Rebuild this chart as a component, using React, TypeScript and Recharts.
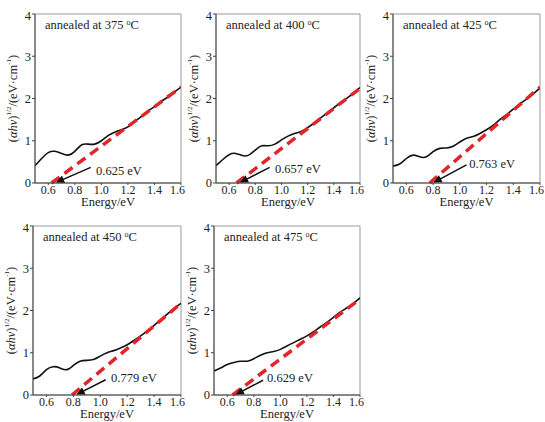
import React from 'react';
import { ComposedChart, Line, XAxis, YAxis, ReferenceArea, ReferenceLine, ReferenceDot, Label, Customized } from 'recharts';

const energy = [0.5, 0.55, 0.6, 0.65, 0.7, 0.75, 0.8, 0.85, 0.9, 0.95, 1.0, 1.05, 1.1, 1.15, 1.2, 1.25, 1.3, 1.35, 1.4, 1.45, 1.5, 1.55, 1.6];

const curve375 = [0.41, 0.58, 0.72, 0.75, 0.70, 0.66, 0.75, 0.90, 0.92, 0.92, 1.00, 1.12, 1.20, 1.26, 1.33, 1.45, 1.57, 1.70, 1.81, 1.93, 2.03, 2.15, 2.27];
const curve400 = [0.41, 0.55, 0.67, 0.70, 0.65, 0.66, 0.78, 0.88, 0.88, 0.92, 1.02, 1.11, 1.17, 1.22, 1.31, 1.42, 1.54, 1.66, 1.78, 1.90, 2.01, 2.13, 2.26];
const curve425 = [0.40, 0.45, 0.58, 0.66, 0.62, 0.62, 0.74, 0.82, 0.83, 0.87, 0.97, 1.06, 1.10, 1.17, 1.26, 1.37, 1.50, 1.62, 1.75, 1.87, 1.99, 2.11, 2.25];
const curve450 = [0.38, 0.45, 0.60, 0.67, 0.64, 0.60, 0.70, 0.80, 0.82, 0.84, 0.92, 1.00, 1.05, 1.11, 1.19, 1.29, 1.40, 1.52, 1.65, 1.78, 1.92, 2.05, 2.17];
const curve475 = [0.57, 0.64, 0.72, 0.77, 0.80, 0.80, 0.86, 0.94, 1.00, 1.03, 1.08, 1.16, 1.24, 1.32, 1.40, 1.50, 1.61, 1.72, 1.84, 1.96, 2.06, 2.17, 2.30];

// fitted straight line: [x0, y0, x1, y1]
const fit375 = [0.625, 0, 1.6, 2.27];
const fit400 = [0.657, 0, 1.6, 2.24];
const fit425 = [0.775, 0, 1.6, 2.27];
const fit450 = [0.79, 0, 1.6, 2.17];
const fit475 = [0.64, 0, 1.57, 2.2];

// arrow: [tailX, tailY, headX, headY]
const arrow375 = [0.92, 0.37, 0.665, 0.02];
const arrow400 = [0.91, 0.37, 0.69, 0.02];
const arrow425 = [1.05, 0.43, 0.81, 0.02];
const arrow450 = [1.04, 0.36, 0.83, 0.02];
const arrow475 = [0.87, 0.35, 0.67, 0.02];

const gapLabels = ['0.625 eV', '0.657 eV', '0.763 eV', '0.779 eV', '0.629 eV'];
const labelPos = [[0.96, 0.3], [0.95, 0.35], [1.07, 0.45], [1.08, 0.42], [0.9, 0.42]];
const temps = ['375', '400', '425', '450', '475'];

const xTicks = [0.6, 0.8, 1.0, 1.2, 1.4, 1.6];
const yTicks = [0, 1, 2, 3, 4];

const FONT = '"Liberation Serif", "DejaVu Serif", serif';
const TXT = '#222';

const YLabel = (props: any) => {
    const vb = props.viewBox || {};
    const cx = vb.x + 14;
    const cy = vb.y + vb.height / 2;
    return (
        <text x={cx} y={cy} transform={`rotate(-90 ${cx} ${cy})`} textAnchor="middle" dominantBaseline="middle" fontFamily={FONT} fontSize={12.5} fill={TXT}>
            (<tspan fontStyle="italic">αhν</tspan>)<tspan fontSize={7} dy={-5}>1/2</tspan><tspan dy={5}>/(eV·cm</tspan><tspan fontSize={7} dy={-5}>-1</tspan><tspan dy={5}>)</tspan>
        </text>
    );
};

const XLabel = (props: any) => {
    const vb = props.viewBox || {};
    return (
        <text x={vb.x + vb.width / 2} y={vb.y + 20.5} textAnchor="middle" dominantBaseline="middle" fontFamily={FONT} fontSize={12.5} fill={TXT}>
            Energy/eV
        </text>
    );
};

interface PanelProps {
    px: number;
    py: number;
    pw: number;
    ph: number;
    curve: number[];
    fit: number[];
    arrow: number[];
    idx: number;
}

const YW = 35;
const MT = 6;
const MR = 4;
const XH = 30;

function Panel({ px, py, pw, ph, curve, fit, arrow, idx }: PanelProps) {
    const data = energy.map((e, i) => ({ e, v: curve[i] }));
    const fitData = [{ e: fit[0], f: fit[1] }, { e: fit[2], f: fit[3] }];
    return (
        <div style={{ position: 'absolute', left: px - YW, top: py - MT }}>
            <ComposedChart width={pw + YW + MR} height={ph + MT + XH} margin={{ top: MT, right: MR, left: 0, bottom: 0 }}>
                <XAxis
                    dataKey="e"
                    type="number"
                    domain={[0.5, 1.6]}
                    ticks={xTicks}
                    allowDataOverflow
                    tickFormatter={(v: number) => v.toFixed(1)}
                    height={XH}
                    tickSize={2}
                    tickMargin={0}
                    stroke="#444"
                    tick={{ fontSize: 12, fontFamily: FONT, fill: TXT }}
                >
                    <Label content={XLabel} />
                </XAxis>
                <YAxis
                    type="number"
                    domain={[0, 4]}
                    ticks={yTicks}
                    width={YW}
                    tickSize={3}
                    tickMargin={1}
                    stroke="#444"
                    tick={{ fontSize: 12.5, fontFamily: FONT, fill: TXT }}
                >
                    <Label content={YLabel} />
                </YAxis>
                <ReferenceArea x1={0.5} x2={1.6} y1={0} y2={4} fill="none" stroke="#999" strokeWidth={1} />
                <Line data={data} dataKey="v" type="natural" stroke="#111" strokeWidth={1.6} dot={false} isAnimationActive={false} />
                <Line data={fitData} dataKey="f" type="linear" stroke="#e0262b" strokeWidth={3.5} strokeDasharray="10 6" dot={false} isAnimationActive={false} />
                <ReferenceLine
                    segment={[{ x: arrow[0], y: arrow[1] }, { x: arrow[2], y: arrow[3] }]}
                    stroke="#111"
                    strokeWidth={1.5}
                    markerEnd="url(#arrowHead)"
                    ifOverflow="visible"
                />
                <ReferenceDot x={labelPos[idx][0]} y={labelPos[idx][1]} r={0} fill="none" stroke="none" ifOverflow="visible"
                    label={{ value: gapLabels[idx], position: 'right', offset: 0, style: { fontSize: 12.5, fontFamily: FONT, fill: TXT } }} />
                <Customized component={() => (
                    <text x={YW + 10} y={MT + 15} fontFamily={FONT} fontSize={12.5} fill={TXT}>
                        annealed at {temps[idx]} <tspan fontSize={8} dy={-4}>o</tspan><tspan dy={4}>C</tspan>
                    </text>
                )} />
            </ComposedChart>
        </div>
    );
}

export default function App() {
    return (
        <div style={{ position: 'absolute', left: 0, top: 0, width: 545, height: 422, background: '#fff' }}>
            <svg width={0} height={0} style={{ position: 'absolute' }}>
                <defs>
                    <marker id="arrowHead" viewBox="0 0 10 10" refX={9} refY={5} markerWidth={10} markerHeight={8} markerUnits="userSpaceOnUse" orient="auto">
                        <path d="M0,0 L10,5 L0,10 z" fill="#111" />
                    </marker>
                </defs>
            </svg>
            <Panel px={35} py={14} pw={146} ph={169} curve={curve375} fit={fit375} arrow={arrow375} idx={0} />
            <Panel px={216} py={14} pw={144} ph={169} curve={curve400} fit={fit400} arrow={arrow400} idx={1} />
            <Panel px={393} py={14} pw={147} ph={169} curve={curve425} fit={fit425} arrow={arrow425} idx={2} />
            <Panel px={33} py={226} pw={148} ph={169} curve={curve450} fit={fit450} arrow={arrow450} idx={3} />
            <Panel px={214} py={226} pw={146} ph={169} curve={curve475} fit={fit475} arrow={arrow475} idx={4} />
        </div>
    );
}
